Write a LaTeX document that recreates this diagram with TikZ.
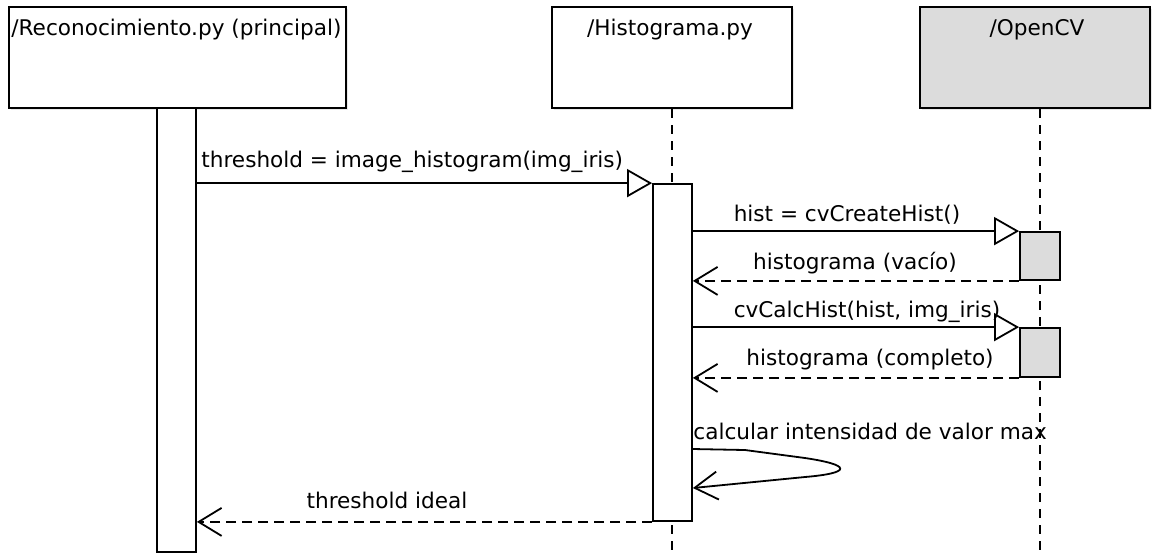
\documentclass[tikz,border=0pt]{standalone}
\usepackage{fontspec}
\setmainfont{DejaVu Sans}
\usetikzlibrary{arrows.meta,shadows}
\definecolor{libgray}{RGB}{220,220,220}
\begin{document}
\begin{tikzpicture}[x=0.5pt,y=-0.5pt,
  lbl/.style={font=\fontsize{10.8}{13}\selectfont, inner sep=0pt},
  objbox/.style={draw, line width=1pt, rectangle, inner sep=0pt, minimum height=50.5pt,
     drop shadow={shadow xshift=1.2pt, shadow yshift=-1.2pt, opacity=0.18}},
  actbar/.style={draw, line width=0.9pt, rectangle, inner sep=0pt, minimum width=19.5pt, fill=white},
  callmsg/.style={line width=0.9pt, -{Triangle[open,length=12.5pt,width=14pt]}},
  retmsg/.style={line width=0.9pt, dash pattern=on 5pt off 3pt, -{Straight Barb[length=11.5pt,width=14pt]}},
  lifeline/.style={line width=0.9pt, dash pattern=on 4.5pt off 3.5pt}
]
\useasboundingbox (0,0) rectangle (1157,554);
\fill[white] (0,0) rectangle (1157,554);

% objects
\node[objbox, fill=white, minimum width=168.5pt] (rec) at (177.5,57.5) {};
\node[objbox, fill=white, minimum width=120pt] (his) at (672,57.5) {};
\node[objbox, fill=libgray, minimum width=115pt] (ocv) at (1035,57.5) {};

\node[lbl, anchor=base west] (recT) at (11,35) {/Reconocimiento.py (principal)};
\node[lbl, anchor=base] (hisT) at (670,35) {/Histograma.py};
\node[lbl, anchor=base] (ocvT) at (1037,35) {/OpenCV};

% lifelines
\coordinate (hisEnd) at (672,554);
\coordinate (ocvEnd) at (1040,554);
\draw[lifeline] (his.south) -- (hisEnd);
\draw[lifeline] (ocv.south -| ocvEnd) -- (ocvEnd);

% activation bars
\node[actbar, minimum height=222pt] (act1) at (176.5,330) {};
\node[actbar, minimum height=168.5pt] (act2) at (672.5,352.5) {};
\node[actbar, fill=libgray, minimum width=20pt, minimum height=24pt] (act3a) at (1040,256) {};
\node[actbar, fill=libgray, minimum width=20pt, minimum height=24.5pt] (act3b) at (1040,352.5) {};

% messages
\draw[callmsg] (act1.east |- act2.north west) -- (act2.north west);
\node[lbl, anchor=base west] (m1) at (201,167) {threshold = image\_histogram(img\_iris)};

\draw[callmsg] (act2.east |- act3a.north west) -- (act3a.north west);
\node[lbl, anchor=base] (m2) at (847,221) {hist = cvCreateHist()};

\draw[retmsg] (act3a.south west) -- (act2.east |- act3a.south west);
\node[lbl, anchor=base] (r2) at (855,269) {histograma (vacío)};

\draw[callmsg] (act2.east |- act3b.north west) -- (act3b.north west);
\node[lbl, anchor=base] (m3) at (867,317) {cvCalcHist(hist, img\_iris)};

\draw[retmsg] (act3b.south west) -- (act2.east |- act3b.south west);
\node[lbl, anchor=base] (r3) at (870,365) {histograma (completo)};

% self message
\coordinate (s0) at (act2.east |- 0,449);
\coordinate (s1) at (act2.east |- 0,488);
\draw[line width=0.9pt, -{Straight Barb[length=11.5pt,width=14pt]}]
  (s0) -- (745,450) -- (805,458) .. controls (852,465) and (852,473) .. (805,477) -- (s1);
\node[lbl, anchor=base west] (m4) at (693,439) {calcular intensidad de valor max};

\draw[retmsg] (act2.south west) -- (act1.east |- act2.south west);
\node[lbl, anchor=base] (r1) at (387,508) {threshold ideal};
\end{tikzpicture}
\end{document}
